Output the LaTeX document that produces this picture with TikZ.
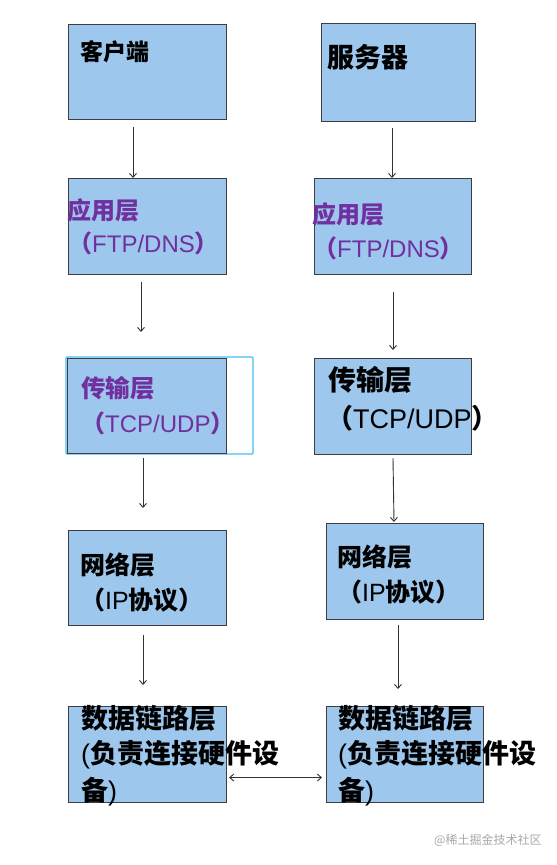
\documentclass[tikz,border=0pt]{standalone}
\usepackage{fontspec}
\newfontfamily\cjk{Noto Sans CJK SC}
\newfontfamily\myLatFont{Liberation Sans}
\newcommand\myLat{\myLatFont\mdseries}
\usetikzlibrary{arrows.meta}
\definecolor{boxfill}{RGB}{157,199,236}
\definecolor{boxline}{RGB}{62,62,66}
\definecolor{purp}{RGB}{112,48,160}
\definecolor{selcyan}{RGB}{70,190,240}
\definecolor{wm}{RGB}{168,168,168}
\definecolor{arrcol}{RGB}{50,50,50}
\begin{document}
\begin{tikzpicture}[x=1pt,y=-1pt,
 box/.style={draw=boxline, line width=1.1pt, fill=boxfill, anchor=north west, inner sep=0pt},
 lbl/.style={anchor=west, inner sep=0pt, font=\cjk\bfseries},
 arr/.style={draw=arrcol, line width=0.9pt, -{Straight Barb[length=4pt,width=7pt]}},
 darr/.style={draw=arrcol, line width=0.9pt, {Straight Barb[length=4pt,width=7pt]}-{Straight Barb[length=4pt,width=7pt]}},
]
\useasboundingbox (0,0) rectangle (557,865);
\fill[white] (0,0) rectangle (557,865);

% selection outline
\draw[selcyan, line width=1.4pt, rounded corners=1pt] (66,357) rectangle (253,454);

% left column boxes
\node[box, minimum width=158pt, minimum height=95pt] (L0) at (68,24) {};
\node[box, minimum width=158pt, minimum height=96pt] (L1) at (68,178) {};
\node[box, minimum width=159pt, minimum height=95pt] (L2) at (67,358) {};
\node[box, minimum width=158pt, minimum height=95pt] (L3) at (68,530) {};
\node[box, minimum width=158pt, minimum height=96pt] (L4) at (68,706) {};
% right column boxes
\node[box, minimum width=154pt, minimum height=98pt] (R0) at (321,23) {};
\node[box, minimum width=157pt, minimum height=96pt] (R1) at (314,178) {};
\node[box, minimum width=157pt, minimum height=96pt] (R2) at (314,358) {};
\node[box, minimum width=157pt, minimum height=96pt] (R3) at (326,523) {};
\node[box, minimum width=157pt, minimum height=96pt] (R4) at (326,706) {};

% arrow end points
\coordinate (a1s) at (133,127); \coordinate (a1e) at (133,178);
\coordinate (a2s) at (141,282); \coordinate (a2e) at (141,332);
\coordinate (a3s) at (143,458); \coordinate (a3e) at (143,508);
\coordinate (a4s) at (143,635); \coordinate (a4e) at (143,685);
\coordinate (b1s) at (392,128); \coordinate (b1e) at (392,178);
\coordinate (b2s) at (393,292); \coordinate (b2e) at (393,350);
\coordinate (b3s) at (393,458); \coordinate (b3e) at (394,522);
\coordinate (b4s) at (398,625); \coordinate (b4e) at (398,689);
\draw[arr] (a1s) -- (a1e);
\draw[arr] (a2s) -- (a2e);
\draw[arr] (a3s) -- (a3e);
\draw[arr] (a4s) -- (a4e);
\draw[arr] (b1s) -- (b1e);
\draw[arr] (b2s) -- (b2e);
\draw[arr] (b3s) -- (b3e);
\draw[arr] (b4s) -- (b4e);
\draw[darr] ([xshift=2pt,yshift=-23pt]L4.east) -- ([xshift=-4pt,yshift=-23pt]R4.west);

% texts left
\node[lbl, font=\cjk\bfseries\fontsize{23}{28}\selectfont] (tL0) at (80,52) {客户端};
\node[lbl, text=purp, font=\cjk\bfseries\fontsize{24}{28}\selectfont] (tL1a) at (67,210) {应用层};
\node[lbl, text=purp, font=\cjk\bfseries\fontsize{24}{28}\selectfont] (tL1b) at (68,243) {（{\myLat FTP/DNS}）};
\node[lbl, text=purp, font=\cjk\bfseries\fontsize{24.5}{28}\selectfont] (tL2a) at (81,388) {传输层};
\node[lbl, text=purp, font=\cjk\bfseries\fontsize{24}{28}\selectfont] (tL2b) at (81,423) {（{\myLat TCP/UDP}）};
\node[lbl, font=\cjk\bfseries\fontsize{25}{28}\selectfont] (tL3a) at (80,565) {网络层};
\node[lbl, font=\cjk\bfseries\fontsize{25}{28}\selectfont] (tL3b) at (80,600) {（{\myLat IP}协议）};
\node[lbl, font=\cjk\bfseries\fontsize{27}{30}\selectfont] (tL4a) at (81,718) {数据链路层};
\node[lbl, font=\cjk\bfseries\fontsize{27}{30}\selectfont] (tL4b) at (81,755) {{\myLat(}负责连接硬件设};
\node[lbl, font=\cjk\bfseries\fontsize{27}{30}\selectfont] (tL4c) at (81,792) {备{\myLat)}};
% texts right
\node[lbl, font=\cjk\bfseries\fontsize{27}{30}\selectfont] (tR0) at (327,57) {服务器};
\node[lbl, text=purp, font=\cjk\bfseries\fontsize{24}{28}\selectfont] (tR1a) at (312,214) {应用层};
\node[lbl, text=purp, font=\cjk\bfseries\fontsize{24}{28}\selectfont] (tR1b) at (313,248) {（{\myLat FTP/DNS}）};
\node[lbl, font=\cjk\bfseries\fontsize{28}{30}\selectfont] (tR2a) at (328,380) {传输层};
\node[lbl, font=\cjk\bfseries\fontsize{27}{30}\selectfont] (tR2b) at (326,418) {（{\myLat TCP/UDP}）};
\node[lbl, font=\cjk\bfseries\fontsize{25}{28}\selectfont] (tR3a) at (337,557) {网络层};
\node[lbl, font=\cjk\bfseries\fontsize{25}{28}\selectfont] (tR3b) at (337,592) {（{\myLat IP}协议）};
\node[lbl, font=\cjk\bfseries\fontsize{27}{30}\selectfont] (tR4a) at (338,718) {数据链路层};
\node[lbl, font=\cjk\bfseries\fontsize{27}{30}\selectfont] (tR4b) at (338,755) {{\myLat(}负责连接硬件设};
\node[lbl, font=\cjk\bfseries\fontsize{27}{30}\selectfont] (tR4c) at (338,792) {备{\myLat)}};

% watermark
\node[anchor=west, inner sep=0pt, text=wm, font=\cjk\fontsize{12}{14}\selectfont] (wmk) at (434,840) {@稀土掘金技术社区};
\end{tikzpicture}
\end{document}
